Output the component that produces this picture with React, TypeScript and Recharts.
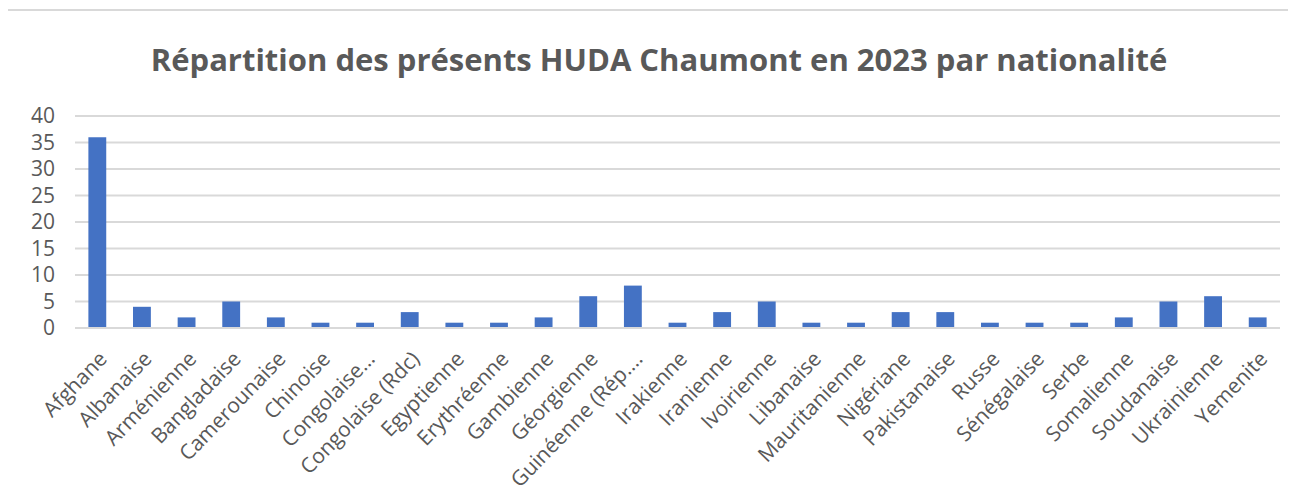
import React from "react";
import { BarChart, Bar, XAxis, YAxis, CartesianGrid } from "recharts";

const categories = [
  "Afghane", "Albanaise", "Arménienne", "Bangladaise", "Camerounaise", "Chinoise",
  "Congolaise…", "Congolaise (Rdc)", "Egyptienne", "Erythréenne", "Gambienne",
  "Géorgienne", "Guinéenne (Rép.…", "Irakienne", "Iranienne", "Ivoirienne",
  "Libanaise", "Mauritanienne", "Nigériane", "Pakistanaise", "Russe",
  "Sénégalaise", "Serbe", "Somalienne", "Soudanaise", "Ukrainienne", "Yemenite",
];
const presents = [36, 4, 2, 5, 2, 1, 1, 3, 1, 1, 2, 6, 8, 1, 3, 5, 1, 1, 3, 3, 1, 1, 1, 2, 5, 6, 2];
const yTicks = [0, 5, 10, 15, 20, 25, 30, 35, 40];

const data = categories.map((c, i) => ({ name: c, value: presents[i] }));

const XTick = (props: any) => {
  const { x, y, payload } = props;
  return (
    <g transform={`translate(${x + 11},${y + 24})`}>
      <text
        textAnchor="end"
        transform="rotate(-46)"
        fill="#595959"
        fontSize={21}
        fontFamily="Open Sans"
      >
        {payload.value}
      </text>
    </g>
  );
};

export default function App() {
  return (
    <div style={{ position: "relative", width: 1296, height: 499, margin: "-8px 0 0 -8px", overflow: "hidden", background: "#fff" }}>
      <div style={{ position: "absolute", left: 5, top: 9, width: 1310, height: 520, border: "2px solid #d9d9d9", boxSizing: "border-box" }} />
      <div
        style={{
          position: "absolute",
          left: 0,
          width: 1318,
          top: 39,
          textAlign: "center",
          fontFamily: "Open Sans",
          fontWeight: 700,
          fontSize: 31,
          color: "#595959",
          lineHeight: "40px",
          whiteSpace: "nowrap",
        }}
      >
        Répartition des présents HUDA Chaumont en 2023 par nationalité
      </div>
      <div style={{ position: "absolute", left: 0, top: 0 }}>
        <BarChart width={1296} height={499} data={data} margin={{ top: 116, right: 16, left: 0, bottom: 0 }} barCategoryGap="70%">
          <CartesianGrid vertical={false} stroke="#d9d9d9" strokeWidth={2} />
          <XAxis
            dataKey="name"
            interval={0}
            height={171}
            tick={<XTick />}
            tickLine={false}
            axisLine={{ stroke: "#d9d9d9", strokeWidth: 2 }}
          />
          <YAxis
            domain={[0, 40]}
            ticks={yTicks}
            width={75}
            axisLine={false}
            tickLine={false}
            tickMargin={14}
            tick={{ fill: "#595959", fontSize: 21, fontFamily: "Open Sans" }}
            interval={0}
          />
          <Bar dataKey="value" fill="#4472C4" isAnimationActive={false} />
        </BarChart>
      </div>
    </div>
  );
}
